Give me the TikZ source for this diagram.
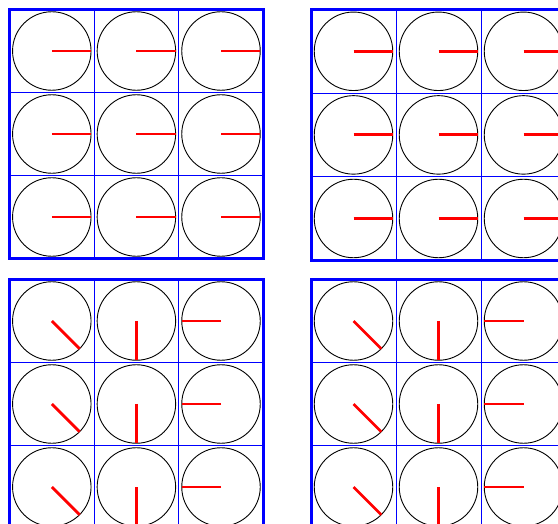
\documentclass[tikz,border=0pt]{standalone}
\tikzset{
  dial/.style={circle, draw=black, line width=0.9pt, minimum size=78.5pt, inner sep=0pt, outer sep=0pt},
  hand/.style={draw=red, line width=2.8pt},
  frame/.style={draw=blue, line width=3pt},
  gridline/.style={draw=blue, line width=1pt}
}
\newcommand\dialpanel[6]{%
  \foreach \i in {1,2} {
    \draw[gridline] ({#2+\i*#4},#3) -- ({#2+\i*#4},{#3+3*#5});
    \draw[gridline] (#2,{#3+\i*#5}) -- ({#2+3*#4},{#3+\i*#5});
  }
  \foreach \r in {0,1,2} {
    \foreach \a [count=\c from 0] in {#6} {
      \node[dial] (#1-\r-\c) at ({#2+(\c+0.5)*#4},{#3+(\r+0.5)*#5}) {};
      \draw[hand] (#1-\r-\c.center) -- (#1-\r-\c.\a);
    }
  }
  \draw[frame] (#2,#3) rectangle ({#2+3*#4},{#3+3*#5});
}
\begin{document}
\begin{tikzpicture}[x=1pt,y=-1pt]
  \useasboundingbox (0,0) rectangle (558,524);
  \clip (0,0) rectangle (558,524);
  \dialpanel{tl}{9.5}{9.5}{84.6}{83}{0,0,0}
  \dialpanel{tr}{311}{9.5}{85}{83.6}{0,0,0}
  \dialpanel{bl}{9.5}{279.5}{84.6}{83}{-45,-90,180}
  \dialpanel{br}{311}{279.5}{85}{83}{-45,-90,180}
\end{tikzpicture}
\end{document}
